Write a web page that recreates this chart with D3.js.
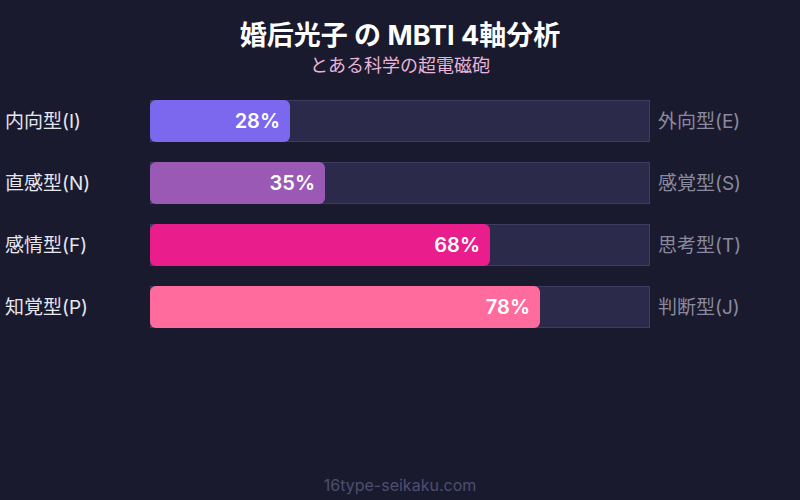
<!DOCTYPE html>
<html>
<head>
<meta charset="utf-8">
<script src="https://cdn.jsdelivr.net/npm/d3@7"></script>
<style>
	html, body { margin: 0; padding: 0; background: #1a1a2e; }
	svg { display: block; font-family: Inter, "Noto Sans CJK JP", sans-serif; }
</style>
</head>
<body>
<svg id="chart"></svg>
<script>
const leftLabels = ["内向型(I)", "直感型(N)", "感情型(F)", "知覚型(P)"];
const rightLabels = ["外向型(E)", "感覚型(S)", "思考型(T)", "判断型(J)"];
const values = [28, 35, 68, 78];
const barColors = ["#7b68ee", "#9b59b6", "#e91e8c", "#ff6b9d"];

const width = 800, height = 500;
const svg = d3.select("#chart")
	.attr("width", width)
	.attr("height", height);

svg.append("rect")
	.attr("width", width)
	.attr("height", height)
	.attr("fill", "#1a1a2e");

svg.append("text")
	.attr("x", width / 2)
	.attr("y", 45)
	.attr("text-anchor", "middle")
	.attr("font-size", "27px")
	.attr("font-weight", "bold")
	.attr("fill", "#ffffff")
	.text("婚后光子 の MBTI 4軸分析");

svg.append("text")
	.attr("x", width / 2)
	.attr("y", 72)
	.attr("text-anchor", "middle")
	.attr("font-size", "18px")
	.attr("fill", "#e8b4d8")
	.text("とある科学の超電磁砲");

const x = d3.scaleLinear()
	.domain([0, 100])
	.range([150, 650]);

const y = d3.scaleBand()
	.domain(leftLabels)
	.range([100, 328])
	.paddingInner(20 / 62)
	.paddingOuter(0);

const rows = svg.selectAll(".row")
	.data(values.map((v, i) => ({ v, left: leftLabels[i], right: rightLabels[i], color: barColors[i] })))
	.enter().append("g")
	.attr("class", "row")
	.attr("transform", d => `translate(0,${y(d.left)})`);

rows.append("rect")
	.attr("x", x(0) + 0.5)
	.attr("y", 0.5)
	.attr("width", x(100) - x(0) - 1)
	.attr("height", y.bandwidth() - 1)
	.attr("fill", "#2c2a4a")
	.attr("stroke", "#3e3c60")
	.attr("stroke-width", 1);

rows.append("rect")
	.attr("x", x(0))
	.attr("y", 0)
	.attr("width", d => x(d.v) - x(0))
	.attr("height", y.bandwidth())
	.attr("rx", 6)
	.attr("fill", d => d.color);

rows.append("text")
	.attr("x", d => x(d.v) - 10)
	.attr("y", y.bandwidth() / 2)
	.attr("dy", "0.36em")
	.attr("text-anchor", "end")
	.attr("font-size", "20px")
	.attr("font-weight", 600)
	.attr("fill", "#ffffff")
	.text(d => d.v + "%");

rows.append("text")
	.attr("x", 5)
	.attr("y", y.bandwidth() / 2)
	.attr("dy", "0.36em")
	.attr("font-size", "19px")
	.attr("fill", "#e6e6ee")
	.text(d => d.left);

rows.append("text")
	.attr("x", 658)
	.attr("y", y.bandwidth() / 2)
	.attr("dy", "0.36em")
	.attr("font-size", "19px")
	.attr("fill", "#8a8a9e")
	.text(d => d.right);

svg.append("text")
	.attr("x", width / 2)
	.attr("y", 491)
	.attr("text-anchor", "middle")
	.attr("font-size", "16px")
	.attr("fill", "#4e4e6e")
	.text("16type-seikaku.com");
</script>
</body>
</html>
